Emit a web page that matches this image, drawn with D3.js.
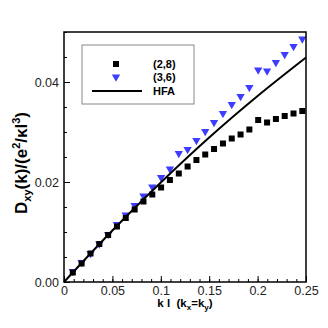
<!DOCTYPE html>
<html>
<head>
<meta charset="utf-8">
<script src="https://cdn.jsdelivr.net/npm/d3@7"></script>
<style>
  body { margin: 0; background: #fff; }
  svg text { font-family: "Liberation Sans", Arial, sans-serif; }
</style>
</head>
<body>
<div id="chart"></div>
<script>
// k l values (k_x = k_y)
var kValues = [0.0091, 0.0182, 0.0274, 0.0365, 0.0456, 0.0547, 0.0638, 0.0730, 0.0821,
    0.0912, 0.1003, 0.1094, 0.1186, 0.1277, 0.1368, 0.1459, 0.1550, 0.1642, 0.1733,
    0.1824, 0.1915, 0.2006, 0.2098, 0.2189, 0.2280, 0.2371, 0.2462];
// (2,8) squares
var series28 = [0.0019, 0.0037, 0.0057, 0.0076, 0.0094, 0.0111, 0.0128, 0.0145, 0.0161,
    0.0175, 0.0189, 0.0204, 0.0217, 0.0231, 0.0244, 0.0255, 0.0266, 0.0277, 0.0287,
    0.0295, 0.0305, 0.0324, 0.0319, 0.0326, 0.0332, 0.0337, 0.0342];
// (3,6) triangles
var series36 = [0.0021, 0.0039, 0.0057, 0.0076, 0.0095, 0.0115, 0.0134, 0.0153, 0.0172,
    0.0190, 0.0209, 0.0226, 0.0257, 0.0265, 0.0283, 0.0301, 0.0319, 0.0337, 0.0355,
    0.0371, 0.0389, 0.0424, 0.0422, 0.0439, 0.0455, 0.0471, 0.0486];
// HFA curve
var hfaK = [0, 0.05, 0.1, 0.15, 0.2, 0.25];
var hfaD = [0, 0.0103, 0.0199, 0.0289, 0.0372, 0.0449];

var xTicks = [0, 0.05, 0.1, 0.15, 0.2, 0.25];
var yTicks = [0, 0.02, 0.04];
var legendLabels = ["(2,8)", "(3,6)", "HFA"];

var W = 328, H = 328;
var margin = {top: 32, right: 22, bottom: 46, left: 64};
var width = W - margin.left - margin.right,
    height = H - margin.top - margin.bottom;

var svg = d3.select("#chart").append("svg")
    .attr("width", W)
    .attr("height", H);

var g = svg.append("g")
    .attr("transform", "translate(" + margin.left + "," + margin.top + ")");

var x = d3.scaleLinear().domain([0, 0.25]).range([0, width]);
var y = d3.scaleLinear().domain([0, 0.05]).range([height, 0]);

// inward ticks: minor then major
var xAxis = d3.axisTop(x).tickValues(xTicks)
    .tickFormat(d3.format("")).tickSize(6).tickPadding(0);
var xMinor = d3.axisTop(x).tickValues(d3.range(0, 0.2501, 0.01))
    .tickFormat("").tickSize(3);
var yAxis = d3.axisRight(y).tickValues(yTicks)
    .tickFormat(d3.format(".2f")).tickSize(6);
var yMinor = d3.axisRight(y).tickValues(d3.range(0, 0.0501, 0.005))
    .tickFormat("").tickSize(3);

var gxm = g.append("g").attr("transform", "translate(0," + height + ")").call(xMinor);
var gx = g.append("g").attr("transform", "translate(0," + height + ")").call(xAxis);
var gym = g.append("g").call(yMinor);
var gy = g.append("g").call(yAxis);

[gxm, gx, gym, gy].forEach(function(a) {
    a.select(".domain").remove();
    a.selectAll("line").attr("stroke", "#000").attr("stroke-width", 1);
});
gx.selectAll("text")
    .attr("y", 4).attr("dy", "0.71em")
    .attr("font-size", 12.5).attr("fill", "#222");
gy.selectAll("text")
    .attr("x", -5).attr("text-anchor", "end")
    .attr("font-size", 12.5).attr("fill", "#222");

// data
var pts = kValues.map(function(k, i) { return {k: k, a: series28[i], b: series36[i]}; });
var tri = d3.symbol().type(d3.symbolTriangle).size(30);

g.selectAll(".tri").data(pts).enter().append("path")
    .attr("class", "tri")
    .attr("d", tri)
    .attr("fill", "#3d3dff")
    .attr("transform", function(d) { return "translate(" + x(d.k) + "," + y(d.b) + ") rotate(180)"; });

g.selectAll(".sq").data(pts).enter().append("rect")
    .attr("class", "sq")
    .attr("x", function(d) { return x(d.k) - 3; })
    .attr("y", function(d) { return y(d.a) - 3; })
    .attr("width", 6).attr("height", 6)
    .attr("fill", "#000");

var hfa = hfaK.map(function(k, i) { return [k, hfaD[i]]; });
g.append("path")
    .datum(hfa)
    .attr("fill", "none")
    .attr("stroke", "#000")
    .attr("stroke-width", 2)
    .attr("d", d3.line().curve(d3.curveMonotoneX)
        .x(function(d) { return x(d[0]); })
        .y(function(d) { return y(d[1]); }));

// frame
g.append("rect")
    .attr("width", width).attr("height", height)
    .attr("fill", "none").attr("stroke", "#000").attr("stroke-width", 1.5);

// legend
var leg = svg.append("g").attr("transform", "translate(82,45)");
leg.append("rect")
    .attr("width", 112).attr("height", 59)
    .attr("fill", "#fff").attr("stroke", "#888").attr("stroke-width", 1);
var rowY = [19, 32, 46];
leg.append("rect").attr("x", 31).attr("y", rowY[0] - 3).attr("width", 6).attr("height", 6).attr("fill", "#000");
leg.append("path").attr("d", tri).attr("fill", "#3d3dff")
    .attr("transform", "translate(34," + rowY[1] + ") rotate(180)");
leg.append("line").attr("x1", 10).attr("x2", 60).attr("y1", rowY[2]).attr("y2", rowY[2])
    .attr("stroke", "#000").attr("stroke-width", 2);
leg.selectAll(".lt").data(legendLabels).enter().append("text")
    .attr("x", 71)
    .attr("y", function(d, i) { return rowY[i]; })
    .attr("dy", "0.35em")
    .attr("font-size", 11).attr("font-weight", "bold")
    .text(function(d) { return d; });

// axis titles
var xt = svg.append("text")
    .attr("x", margin.left + width / 2).attr("y", 307)
    .attr("text-anchor", "middle")
    .attr("font-size", 11.5).attr("font-weight", "bold")
    .style("white-space", "pre");
xt.append("tspan").text("k l  (k");
xt.append("tspan").attr("font-size", 8).attr("dy", 3).text("x");
xt.append("tspan").attr("dy", -3).text("=k");
xt.append("tspan").attr("font-size", 8).attr("dy", 3).text("y");
xt.append("tspan").attr("dy", -3).text(")");

var yt = svg.append("text")
    .attr("transform", "translate(27," + (margin.top + height / 2 + 6) + ") rotate(-90)")
    .attr("text-anchor", "middle")
    .attr("font-size", 17).attr("font-weight", "bold");
yt.append("tspan").text("D");
yt.append("tspan").attr("font-size", 11).attr("dy", 4).text("xy");
yt.append("tspan").attr("dy", -4).text("(k)/(e");
yt.append("tspan").attr("font-size", 11).attr("dy", -7).text("2");
yt.append("tspan").attr("dy", 7).text("/κl");
yt.append("tspan").attr("font-size", 11).attr("dy", -7).text("3");
yt.append("tspan").attr("dy", 7).text(")");
</script>
</body>
</html>
